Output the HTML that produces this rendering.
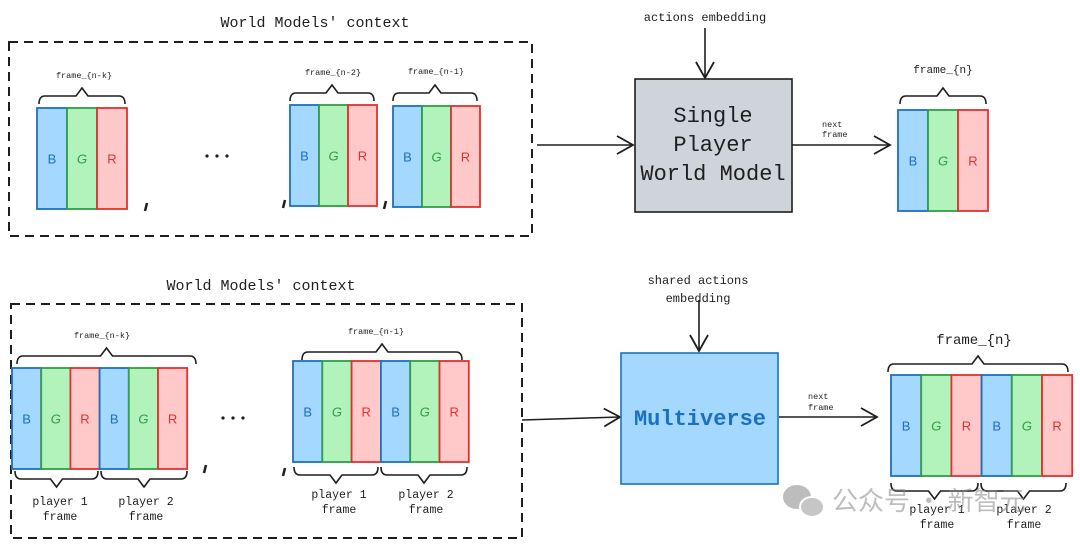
<!DOCTYPE html>
<html><head><meta charset="utf-8"><style>
html,body{margin:0;padding:0;background:#fff;}
svg{display:block;}
text{font-family:"Liberation Mono","DejaVu Sans Mono",monospace;fill:#1e1e1e;}
</style></head><body>
<svg id="s" width="1080" height="547" viewBox="0 0 1080 547" xmlns="http://www.w3.org/2000/svg">
<defs>
<marker id="ah" markerWidth="20" markerHeight="20" refX="18" refY="10" orient="auto" markerUnits="userSpaceOnUse">
<path d="M2,1 L18,10 L2,19" fill="none" stroke="#1e1e1e" stroke-width="1.8"/>
</marker>
</defs>
<g fill="none" stroke="#1e1e1e" stroke-width="2" stroke-dasharray="9,6">
<rect x="9" y="42" width="523" height="194"/>
<rect x="11" y="304" width="511" height="234"/>
</g>
<text x="315" y="27" font-size="15" text-anchor="middle">World Models' context</text>
<text x="261" y="290" font-size="15" text-anchor="middle">World Models' context</text>
<text x="705" y="21" font-size="12" text-anchor="middle">actions embedding</text>
<text x="698" y="284" font-size="12" text-anchor="middle">shared actions</text>
<text x="698" y="302" font-size="12" text-anchor="middle">embedding</text>
<g stroke="#1e1e1e" stroke-width="1.6" fill="none" marker-end="url(#ah)">
<line x1="705" y1="28" x2="705" y2="78"/>
<line x1="537" y1="145" x2="633" y2="145"/>
<line x1="792" y1="145" x2="890" y2="145"/>
<line x1="699" y1="300" x2="699" y2="351"/>
<line x1="522" y1="420" x2="620" y2="417"/>
<line x1="779" y1="417" x2="877" y2="417"/>
</g>
<rect x="635" y="79" width="157" height="133" fill="#ced4da" stroke="#1e1e1e" stroke-width="1.6"/>
<text x="713" y="122" font-size="22" text-anchor="middle">Single</text>
<text x="713" y="151" font-size="22" text-anchor="middle">Player</text>
<text x="713" y="180" font-size="22" text-anchor="middle">World Model</text>
<rect x="621" y="353" width="157" height="131" fill="#a5d8ff" stroke="#1971c2" stroke-width="1.6"/>
<text x="700" y="425" font-size="22" font-weight="bold" text-anchor="middle" style="fill:#1971c2">Multiverse</text>
<text x="822" y="127" font-size="8.5">next</text>
<text x="822" y="137" font-size="8.5">frame</text>
<text x="808" y="399" font-size="8.5">next</text>
<text x="808" y="410" font-size="8.5">frame</text>
<g id="dyn"></g>
<g font-family="Liberation Sans,Noto Sans CJK SC,sans-serif" opacity="0.55">
<ellipse cx="797" cy="497" rx="14" ry="12" fill="#888"/>
<ellipse cx="812" cy="507" rx="12" ry="10" fill="#999" stroke="#fff" stroke-width="2"/>
<text x="832" y="510" font-size="26" style="fill:#888;font-family:'Noto Sans CJK SC',sans-serif">公众号 · 新智元</text>
</g>
</svg>
<script>
var g=document.getElementById('dyn'),h='';
var C={B:['#a5d8ff','#1971c2'],G:['#b2f2bb','#2f9e44'],R:['#ffc9c9','#e03131']};
function frames(x0,y,w,hgt,letters){var x=x0;letters.forEach(function(L){
h+='<rect x="'+x+'" y="'+y+'" width="'+w+'" height="'+hgt+'" fill="'+C[L][0]+'" stroke="'+C[L][1]+'" stroke-width="1.8"/>';
h+='<text x="'+(x+w/2)+'" y="'+(y+hgt/2+5)+'" font-size="13" text-anchor="middle" style="fill:'+C[L][1]+';font-family:Liberation Sans,sans-serif;'+(L=='G'?'font-style:italic':'')+'">'+L+'</text>';x+=w;});}
function brace(x1,x2,y,up){var m=(x1+x2)/2,d=up?-1:1,t=y+d*8,p=t+d*8;
h+='<path d="M'+x1+','+y+' Q'+x1+','+t+' '+(x1+6)+','+t+' L'+(m-6)+','+t+' L'+m+','+p+' L'+(m+6)+','+t+' L'+(x2-6)+','+t+' Q'+x2+','+t+' '+x2+','+y+'" fill="none" stroke="#1e1e1e" stroke-width="1.6"/>';}
function lbl(x,y,s,fs){h+='<text x="'+x+'" y="'+y+'" font-size="'+fs+'" text-anchor="middle">'+s+'</text>';}
function comma(x,y){h+='<line x1="'+(x+1)+'" y1="'+(y-6)+'" x2="'+(x-1)+'" y2="'+(y+2)+'" stroke="#1e1e1e" stroke-width="2.5"/>';}
function dots(x,y){for(var i=0;i<3;i++)h+='<circle cx="'+(x+i*10)+'" cy="'+y+'" r="1.6" fill="#1e1e1e"/>';}
// top
frames(37,108,30,101,['B','G','R']);brace(39,125,104,true);lbl(84,78,'frame_{n-k}',8.5);
frames(290,105,29,101,['B','G','R']);brace(290,374,101,true);lbl(333,75,'frame_{n-2}',8.5);
frames(393,106,29,101,['B','G','R']);brace(393,477,101,true);lbl(436,74,'frame_{n-1}',8.5);
frames(898,110,30,101,['B','G','R']);brace(900,986,104,true);lbl(943,73,'frame_{n}',11);
dots(207,156);comma(146,209);comma(284,206);comma(385,207);
// bottom
frames(12,368,29.2,101,['B','G','R','B','G','R']);brace(17,196,364,true);lbl(102,338,'frame_{n-k}',8.5);
brace(15,98,471,false);brace(101,187,471,false);
lbl(60,505,'player 1',11.5);lbl(60,520,'frame',11.5);lbl(146,505,'player 2',11.5);lbl(146,520,'frame',11.5);
frames(293,361,29.3,101,['B','G','R','B','G','R']);brace(302,462,360,true);lbl(376,334,'frame_{n-1}',8.5);
brace(294,378,467,false);brace(381,467,467,false);
lbl(339,498,'player 1',11.5);lbl(339,513,'frame',11.5);lbl(426,498,'player 2',11.5);lbl(426,513,'frame',11.5);
dots(223,418);comma(205,471);comma(284,474);
frames(891,375,30.2,101,['B','G','R','B','G','R']);brace(888,1068,372,true);lbl(974,344,'frame_{n}',14);
brace(891,978,483,false);brace(981,1066,483,false);
lbl(937,513,'player 1',11.5);lbl(937,528,'frame',11.5);lbl(1024,513,'player 2',11.5);lbl(1024,528,'frame',11.5);
g.innerHTML=h;
</script>
</body></html>
